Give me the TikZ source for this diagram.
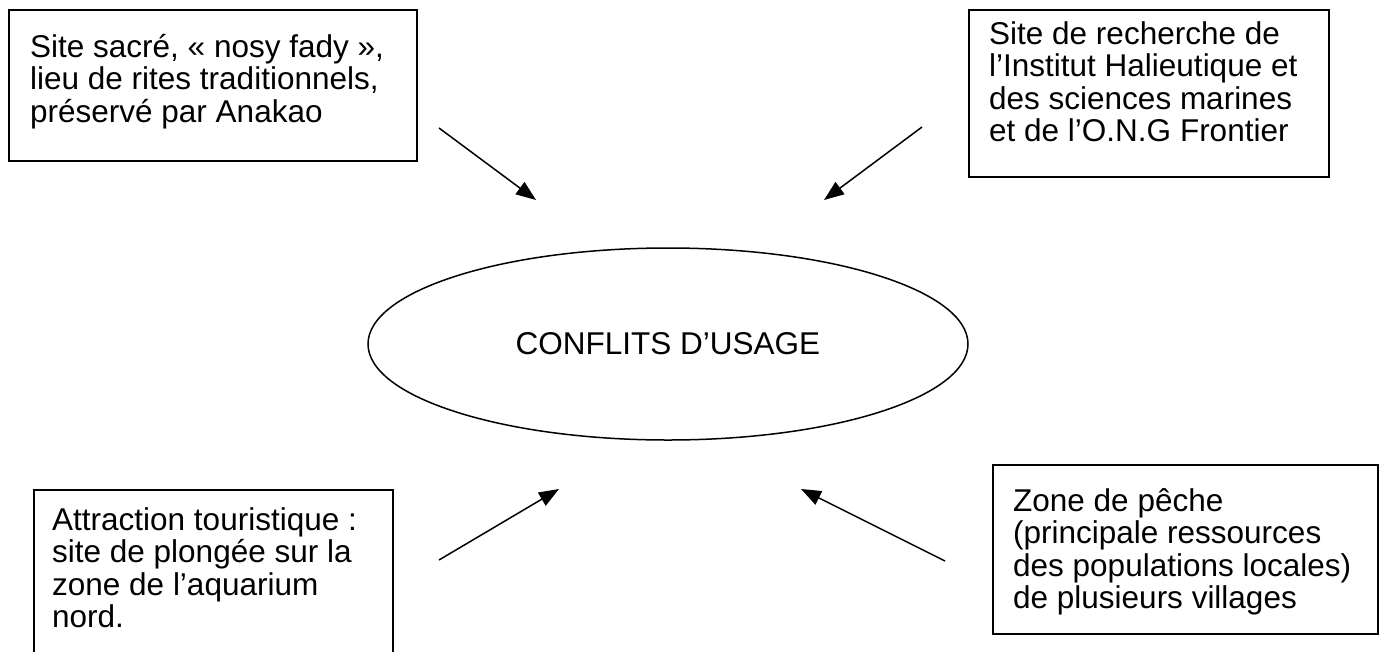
\documentclass[tikz,border=0pt]{standalone}
\usepackage{fontspec}
\setmainfont{Liberation Sans}
\usetikzlibrary{shapes.geometric,arrows.meta}
\tikzset{
  boxframe/.style={draw=black, line width=1.5pt, rectangle, anchor=north west, inner sep=0pt},
  boxtext/.style={anchor=base west, inner sep=0pt, font=\fontsize{31.5}{32.5}\selectfont},
  arr/.style={line width=1.5pt, -{Triangle[length=20pt,width=15pt]}},
}
\begin{document}
\begin{tikzpicture}[x=1pt,y=-1pt]
\useasboundingbox (0,0) rectangle (1381,651);
\clip (0,0) rectangle (1381,651);
\fill[white] (0,0) rectangle (1381,651);
% boxes
\node[boxframe, minimum width=408pt, minimum height=151pt] (b1) at (8,9) {};
\node[boxframe, minimum width=360pt, minimum height=167pt] (b2) at (968,9) {};
\node[boxframe, minimum width=359pt, minimum height=200pt] (b3) at (33,489) {};
\node[boxframe, minimum width=385pt, minimum height=169pt] (b4) at (992,464) {};
% texts
\node[boxtext] (t1) at (30,57) {\parbox[t]{380pt}{Site sacré, « nosy fady »,\\lieu de rites traditionnels,\\préservé par Anakao}};
\node[boxtext] (t2) at (989,44) {\parbox[t]{380pt}{Site de recherche de\\l’Institut Halieutique et\\des sciences marines\\et de l’O.N.G Frontier}};
\node[boxtext] (t3) at (52,530) {\parbox[t]{380pt}{Attraction touristique :\\site de plongée sur la\\zone de l’aquarium\\nord.}};
\node[boxtext] (t4) at (1013,511) {\parbox[t]{380pt}{Zone de pêche\\(principale ressources\\des populations locales)\\de plusieurs villages}};
% ellipse
\node[draw=black, line width=1.5pt, ellipse, minimum width=600pt, minimum height=192pt, inner sep=0pt,
      font=\fontsize{31.5}{32.5}\selectfont] (e) at (668,344) {CONFLITS D’USAGE};
% arrow endpoints
\coordinate (a1s) at (439,128); \coordinate (a1e) at (536,200);
\coordinate (a2s) at (922,127); \coordinate (a2e) at (824,200);
\coordinate (a3s) at (439,560); \coordinate (a3e) at (559,489);
\coordinate (a4s) at (945,561); \coordinate (a4e) at (801,489);
\draw[arr] (a1s) -- (a1e);
\draw[arr] (a2s) -- (a2e);
\draw[arr] (a3s) -- (a3e);
\draw[arr] (a4s) -- (a4e);
\end{tikzpicture}
\end{document}
